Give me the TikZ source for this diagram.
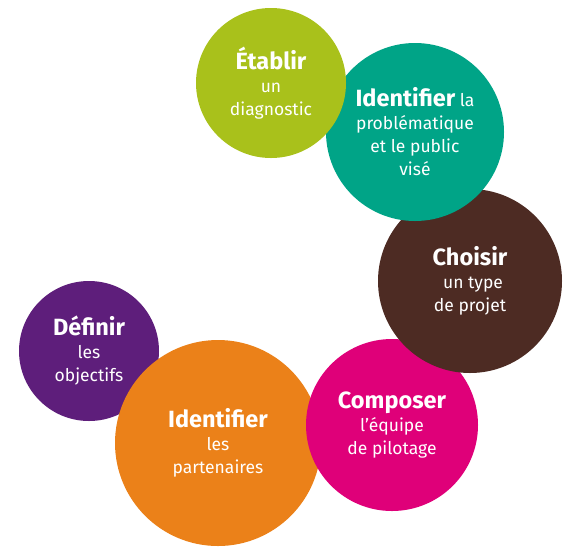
\documentclass[tikz,border=0pt]{standalone}
\usepackage{fontspec}
\setmainfont{Fira Sans}
\usepackage{tikz}

\definecolor{vertclair}{HTML}{A9C11B}
\definecolor{turquoise}{HTML}{00A487}
\definecolor{brun}{HTML}{4D2B23}
\definecolor{magenta}{HTML}{DF0079}
\definecolor{orange}{HTML}{EB8119}
\definecolor{violet}{HTML}{5E1E7B}

\newcommand{\motcle}[1]{{\fontsize{23.5}{23}\selectfont\bfseries #1}}

\begin{document}
\begin{tikzpicture}[x=1pt, y=-1pt,
    etape/.style={circle, inner sep=0pt, text=white, align=center,
        font=\fontsize{17.5}{23}\selectfont}]
    \path[use as bounding box] (0,0) rectangle (569,547);
    \node[etape, fill=violet, minimum size=140pt] (F) at (89,351) {\motcle{Définir}\\les\\objectifs};
    \node[etape, fill=orange, minimum size=206pt] (E) at (218,443) {\motcle{Identifier}\\les\\partenaires};
    \node[etape, fill=magenta, minimum size=172pt] (D) at (392,425) {\motcle{Composer}\\l’équipe\\de pilotage};
    \node[etape, fill=brun, minimum size=184pt] (C) at (470,281) {\motcle{Choisir}\\\hspace*{6pt}un type\\de projet};
    \node[etape, fill=turquoise, minimum size=178pt] (B) at (415,132) {\motcle{Identifier} la\\problématique\\et le public\\visé};
    \node[etape, fill=vertclair, minimum size=150pt] (A) at (271,83) {\motcle{Établir}\\un\\diagnostic};
\end{tikzpicture}
\end{document}
